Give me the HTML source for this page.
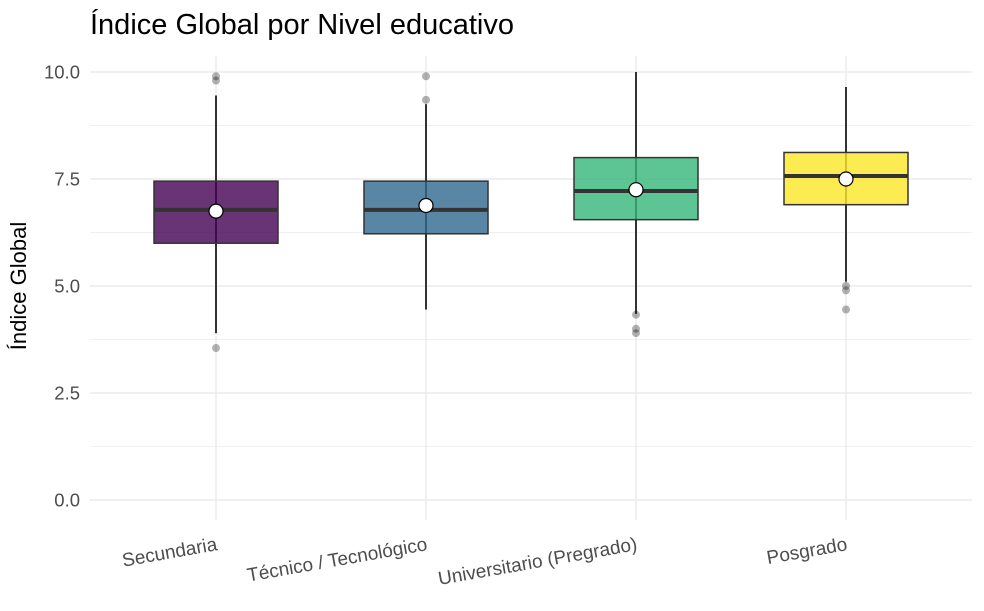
<!DOCTYPE html>
<html><head><meta charset="utf-8"><style>
body{margin:0;background:#fff;}
svg{font-family:"Liberation Sans",sans-serif;}
</style></head><body>
<svg id="chart" width="984" height="606" viewBox="0 0 984 606">
<text x="90" y="34" font-size="29" fill="#000">Índice Global por Nivel educativo</text>
<text transform="translate(26,286) rotate(-90)" text-anchor="middle" font-size="22" fill="#000">Índice Global</text>
<g id="grid"></g><g id="marks"></g><g id="labels"></g>
</svg>
<script>
const categories=["Secundaria","Técnico / Tecnológico","Universitario (Pregrado)","Posgrado"];
const q1=[6.0,6.22,6.55,6.9];
const medians=[6.78,6.78,7.22,7.57];
const q3=[7.45,7.45,8.0,8.12];
const whiskerLow=[3.9,4.45,4.35,5.1];
const whiskerHigh=[9.45,9.25,10.0,9.65];
const means=[6.75,6.88,7.25,7.5];
const outliers=[[3.55,9.8,9.9],[9.35,9.9],[4.33,4.0,3.9],[5.0,4.9,4.45]];
const colors=["#440154","#31688E","#35B779","#FDE725"];
const yTicks=[0,2.5,5,7.5,10];
const yTickLabels=["0.0","2.5","5.0","7.5","10.0"];
const NS="http://www.w3.org/2000/svg";
const y=v=>500-v*42.8;
const x=i=>216+i*210;
const L=90,R=972,bw=62;
function mk(t,a,p){const e=document.createElementNS(NS,t);for(const k in a)e.setAttribute(k,a[k]);p.appendChild(e);return e;}
const grid=document.getElementById('grid'),marks=document.getElementById('marks'),labels=document.getElementById('labels');
for(let k=0;k<yTicks.length-1;k++){const g=mk('line',{x1:L,x2:R,y1:y((yTicks[k]+yTicks[k+1])/2),y2:y((yTicks[k]+yTicks[k+1])/2),stroke:'#f0f0f0','stroke-width':1},grid);

}
yTicks.forEach((t,k)=>{const g=mk('line',{x1:L,x2:R,y1:y(t),y2:y(t),stroke:'#ebebeb','stroke-width':1.5},grid);


const tx=mk('text',{x:80,y:y(t)+6.5,'text-anchor':'end','font-size':18.5,fill:'#4d4d4d'},labels);tx.textContent=yTickLabels[k];

});
categories.forEach((c,i)=>{const cx=x(i);
const g=mk('line',{x1:cx,x2:cx,y1:56,y2:520,stroke:'#ebebeb','stroke-width':1.5},grid);


const w=mk('line',{x1:cx,x2:cx,y1:y(whiskerLow[i]),y2:y(whiskerHigh[i]),stroke:'#333','stroke-width':2},marks);


const b=mk('rect',{x:cx-bw,y:y(q3[i]),width:bw*2,height:y(q1[i])-y(q3[i]),fill:colors[i],'fill-opacity':0.8,stroke:'#333','stroke-width':1.5},marks);


const m=mk('line',{x1:cx-bw,x2:cx+bw,y1:y(medians[i]),y2:y(medians[i]),stroke:'#333','stroke-width':4},marks);


outliers[i].forEach(o=>{const p=mk('circle',{cx:cx,cy:y(o),r:4,fill:'#000','fill-opacity':0.3},marks);

});
const mn=mk('circle',{cx:cx,cy:y(means[i]),r:7,fill:'#fff',stroke:'#000','stroke-width':1.2},marks);


const t=mk('text',{transform:`translate(${cx+2},${550}) rotate(-10)`,'text-anchor':'end','font-size':19,fill:'#4d4d4d'},labels);t.textContent=c;

});
</script>
</body></html>
